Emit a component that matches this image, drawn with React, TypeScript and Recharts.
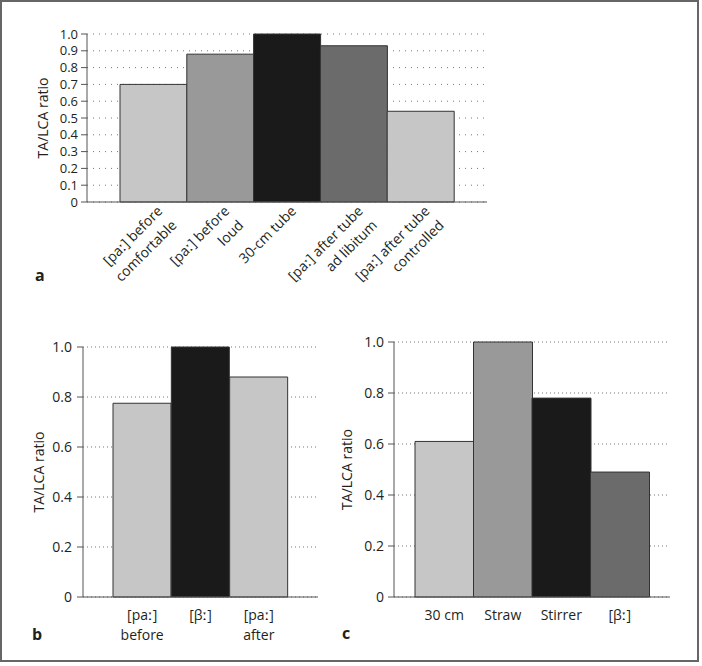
import { BarChart, Bar, XAxis, YAxis, CartesianGrid, Cell } from "recharts";

// panel a
const CATEGORIES_A = [
  "[paː] before\ncomfortable",
  "[paː] before\nloud",
  "30-cm tube",
  "[paː] after tube\nad libitum",
  "[paː] after tube\ncontrolled",
];
const VALUES_A = [0.7, 0.88, 1.0, 0.93, 0.54];
const TICKS_A = [0, 0.1, 0.2, 0.3, 0.4, 0.5, 0.6, 0.7, 0.8, 0.9, 1.0];

// panel b
const CATEGORIES_B = ["[paː]\nbefore", "[βː]", "[paː]\nafter"];
const VALUES_B = [0.775, 1.0, 0.88];

// panel c
const CATEGORIES_C = ["30 cm", "Straw", "Stirrer", "[βː]"];
const VALUES_C = [0.61, 1.0, 0.78, 0.49];

const TICKS_BC = [0, 0.2, 0.4, 0.6, 0.8, 1.0];

const LIGHT = "#c6c6c6";
const MID = "#999999";
const DARK = "#1a1a1a";
const SLATE = "#6b6b6b";
const FILLS_A = [LIGHT, MID, DARK, SLATE, LIGHT];
const FILLS_B = [LIGHT, DARK, LIGHT];
const FILLS_C = [LIGHT, MID, DARK, SLATE];

const TEXT = "#231f20";
const AXIS = "#555";
const FONT = "'Open Sans', 'DejaVu Sans', sans-serif";

const fmt = (v: number) => (v === 0 ? "0" : v.toFixed(1));

const RotatedTick = ({ x, y, payload }: any) => {
  const lines = String(payload.value).split("\n");
  return (
    <g transform={`translate(${x + 10},${y + 10}) rotate(-45)`}>
      <text textAnchor="end" fontSize={14} fill={TEXT}>
        {lines.map((l, i) => (
          <tspan key={i} x={0} dy={i === 0 ? 0 : 20}>
            {l}
          </tspan>
        ))}
      </text>
    </g>
  );
};

const StackedTick = ({ x, y, payload }: any) => {
  const lines = String(payload.value).split("\n");
  return (
    <text x={x} y={y + 23} textAnchor="middle" fontSize={14} fill={TEXT}>
      {lines.map((l, i) => (
        <tspan key={i} x={x} dy={i === 0 ? 0 : 20}>
          {l}
        </tspan>
      ))}
    </text>
  );
};

interface PanelProps {
  categories: string[];
  values: number[];
  fills: string[];
  ticks: number[];
  width: number;
  height: number;
  top: number;
  yWidth: number;
  tickMargin: number;
  tickFont: number;
  pad: number;
  xHeight: number;
  dash: string;
  tick: any;
}

function Panel(p: PanelProps) {
  const data = p.categories.map((name, i) => ({ name, value: p.values[i] }));
  return (
    <BarChart
      width={p.width}
      height={p.height}
      data={data}
      margin={{ top: p.top, right: 0, bottom: 0, left: 0 }}
      barCategoryGap={0}
    >
      <CartesianGrid
        xAxisId="cat"
        vertical={false}
        strokeDasharray={p.dash}
        stroke="#777"
      />
      <XAxis
        xAxisId="edge"
        type="number"
        domain={[0, 1]}
        ticks={[0, 1]}
        height={0}
        tick={false}
        axisLine={false}
        tickSize={6}
        tickLine={{ stroke: AXIS }}
      />
      <XAxis
        xAxisId="cat"
        dataKey="name"
        interval={0}
        height={p.xHeight}
        padding={{ left: p.pad, right: p.pad }}
        tickLine={false}
        tickSize={0}
        tickMargin={0}
        axisLine={{ stroke: AXIS }}
        tick={p.tick}
      />
      <YAxis
        type="number"
        domain={[0, 1]}
        ticks={p.ticks}
        interval={0}
        width={p.yWidth}
        tickSize={6}
        tickMargin={p.tickMargin}
        tickFormatter={fmt}
        tick={{ fontSize: p.tickFont, fill: TEXT }}
        axisLine={{ stroke: AXIS }}
        tickLine={{ stroke: AXIS }}
        label={{
          value: "TA/LCA ratio",
          angle: -90,
          position: "center",
          fontSize: 14,
          fill: TEXT,
        }}
      />
      <Bar
        xAxisId="cat"
        dataKey="value"
        stroke="#333"
        strokeWidth={1}
        isAnimationActive={false}
      >
        {data.map((_, i) => (
          <Cell key={i} fill={p.fills[i]} />
        ))}
      </Bar>
    </BarChart>
  );
}

export default function App() {
  return (
    <div
      style={{
        position: "absolute",
        left: 0,
        top: 0,
        width: 702,
        height: 666,
        background: "#fff",
        fontFamily: FONT,
        overflow: "hidden",
      }}
    >
      <div
        style={{
          position: "absolute",
          left: 0,
          top: 0,
          width: 699,
          height: 662,
          border: "2px solid #666",
          boxSizing: "border-box",
        }}
      />
      <div style={{ position: "absolute", left: 0, top: 0 }}>
        <Panel
          categories={CATEGORIES_A}
          values={VALUES_A}
          fills={FILLS_A}
          ticks={TICKS_A}
          width={487}
          height={312}
          top={34}
          yWidth={87}
          tickMargin={3}
          tickFont={13}
          pad={33}
          xHeight={110}
          dash="1 5"
          tick={<RotatedTick />}
        />
      </div>
      <div style={{ position: "absolute", left: -4, top: 320 }}>
        <Panel
          categories={CATEGORIES_B}
          values={VALUES_B}
          fills={FILLS_B}
          ticks={TICKS_BC}
          width={322}
          height={337}
          top={27}
          yWidth={87}
          tickMargin={5}
          tickFont={14}
          pad={30}
          xHeight={60}
          dash="1 3"
          tick={<StackedTick />}
        />
      </div>
      <div style={{ position: "absolute", left: 300, top: 320 }}>
        <Panel
          categories={CATEGORIES_C}
          values={VALUES_C}
          fills={FILLS_C}
          ticks={TICKS_BC}
          width={370}
          height={337}
          top={22}
          yWidth={94}
          tickMargin={4}
          tickFont={14}
          pad={21}
          xHeight={60}
          dash="1 3"
          tick={<StackedTick />}
        />
      </div>
      <svg
        width={702}
        height={666}
        style={{ position: "absolute", left: 0, top: 0, pointerEvents: "none" }}
      >
        <g fontSize={16} fontWeight="bold" fill={TEXT}>
          <text x={35} y={281}>a</text>
          <text x={32} y={640}>b</text>
          <text x={342} y={639}>c</text>
        </g>
      </svg>
    </div>
  );
}
